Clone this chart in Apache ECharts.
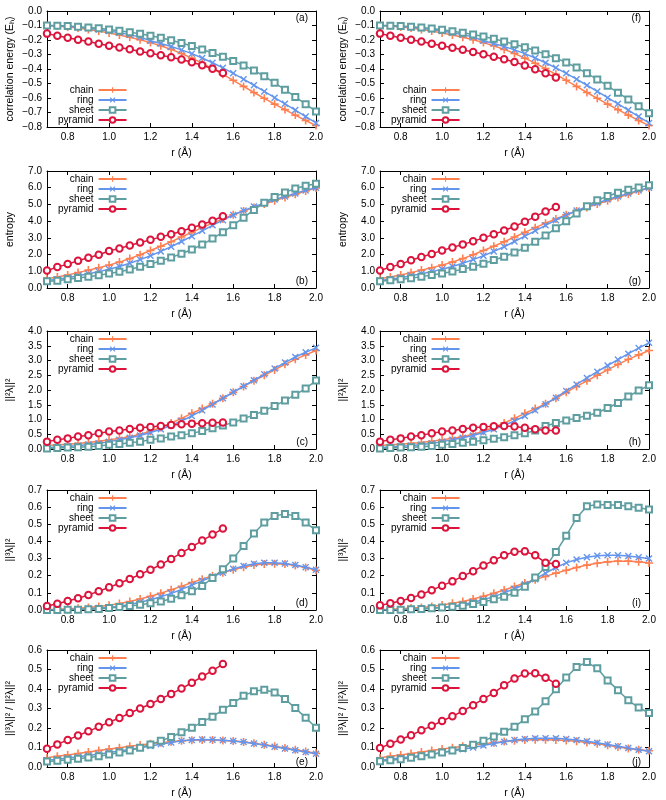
<!DOCTYPE html>
<html>
<head>
<meta charset="utf-8">
<title>Correlation energy, entropy and lambda norms</title>
<script src="https://cdn.jsdelivr.net/npm/echarts@6/dist/echarts.min.js"></script>
<style>
  html, body { margin: 0; padding: 0; background: #fff; }
  #main { width: 666px; height: 800px; }
</style>
</head>
<body>
<div id="main"></div>
<script>
// bond length grid (Å)
var r = [0.70, 0.75, 0.80, 0.85, 0.90, 0.95, 1.00, 1.05, 1.10, 1.15, 1.20, 1.25, 1.30, 1.35,
         1.40, 1.45, 1.50, 1.55, 1.60, 1.65, 1.70, 1.75, 1.80, 1.85, 1.90, 1.95, 2.00];
var xTicks = [0.8, 1.0, 1.2, 1.4, 1.6, 1.8, 2.0];

// (a) correlation energy
var aChain = [-0.100,-0.104,-0.110,-0.118,-0.127,-0.138,-0.151,-0.165,-0.181,-0.198,-0.218,-0.240,-0.265,-0.293,-0.325,-0.360,-0.397,-0.437,-0.478,-0.520,-0.562,-0.602,-0.642,-0.680,-0.718,-0.755,-0.790];
var aRing  = [-0.100,-0.102,-0.106,-0.112,-0.119,-0.128,-0.138,-0.150,-0.163,-0.180,-0.205,-0.224,-0.245,-0.268,-0.294,-0.324,-0.357,-0.392,-0.430,-0.470,-0.512,-0.555,-0.598,-0.640,-0.683,-0.728,-0.772];
var aSheet = [-0.100,-0.101,-0.104,-0.108,-0.113,-0.119,-0.127,-0.136,-0.146,-0.157,-0.170,-0.185,-0.202,-0.221,-0.242,-0.265,-0.290,-0.316,-0.344,-0.375,-0.410,-0.450,-0.495,-0.543,-0.593,-0.643,-0.693];
var aPyr   = [-0.156,-0.170,-0.185,-0.198,-0.211,-0.226,-0.239,-0.252,-0.264,-0.279,-0.291,-0.305,-0.319,-0.335,-0.353,-0.374,-0.398,-0.428];
// (f)
var fChain = [-0.100,-0.104,-0.110,-0.118,-0.127,-0.138,-0.151,-0.165,-0.181,-0.198,-0.218,-0.240,-0.265,-0.293,-0.325,-0.360,-0.397,-0.437,-0.478,-0.520,-0.562,-0.602,-0.642,-0.680,-0.718,-0.755,-0.790];
var fRing  = [-0.100,-0.102,-0.106,-0.112,-0.119,-0.128,-0.138,-0.150,-0.163,-0.180,-0.205,-0.224,-0.245,-0.268,-0.294,-0.324,-0.357,-0.392,-0.430,-0.470,-0.512,-0.555,-0.598,-0.640,-0.683,-0.728,-0.772];
var fSheet = [-0.100,-0.101,-0.104,-0.108,-0.114,-0.121,-0.129,-0.139,-0.150,-0.162,-0.176,-0.192,-0.210,-0.229,-0.250,-0.273,-0.298,-0.325,-0.355,-0.390,-0.430,-0.472,-0.516,-0.563,-0.610,-0.657,-0.705];
var fPyr   = [-0.156,-0.170,-0.185,-0.198,-0.211,-0.226,-0.240,-0.254,-0.268,-0.283,-0.298,-0.315,-0.333,-0.352,-0.375,-0.402,-0.430,-0.458];

// (b) entropy
var bChain = [0.56,0.66,0.78,0.92,1.07,1.21,1.37,1.55,1.76,1.99,2.24,2.50,2.77,3.05,3.33,3.61,3.88,4.13,4.38,4.60,4.82,5.02,5.22,5.42,5.61,5.80,5.98];
var bRing  = [0.45,0.53,0.62,0.73,0.85,0.98,1.12,1.29,1.48,1.70,1.93,2.19,2.47,2.78,3.10,3.42,3.75,4.06,4.37,4.63,4.87,5.08,5.29,5.48,5.66,5.84,6.00];
var bSheet = [0.40,0.44,0.52,0.60,0.68,0.76,0.87,0.97,1.11,1.27,1.43,1.63,1.83,2.05,2.30,2.60,2.96,3.34,3.76,4.21,4.67,5.10,5.45,5.72,5.95,6.12,6.24];
var bPyr   = [1.05,1.25,1.43,1.63,1.81,1.99,2.21,2.37,2.54,2.72,2.88,3.06,3.22,3.40,3.60,3.80,4.02,4.29];
// (g)
var gChain = [0.56,0.66,0.78,0.92,1.07,1.21,1.37,1.55,1.76,1.99,2.24,2.50,2.77,3.05,3.33,3.61,3.88,4.13,4.38,4.60,4.82,5.02,5.22,5.42,5.61,5.80,5.98];
var gRing  = [0.45,0.53,0.62,0.73,0.85,0.98,1.12,1.29,1.48,1.70,1.93,2.19,2.47,2.78,3.10,3.42,3.75,4.06,4.37,4.63,4.87,5.08,5.29,5.48,5.66,5.84,6.00];
var gSheet = [0.40,0.46,0.52,0.58,0.68,0.78,0.87,0.99,1.13,1.27,1.45,1.67,1.87,2.13,2.41,2.76,3.14,3.58,4.00,4.45,4.89,5.25,5.50,5.70,5.88,6.02,6.14];
var gPyr   = [1.05,1.25,1.43,1.66,1.86,2.04,2.25,2.42,2.61,2.79,3.00,3.21,3.44,3.68,3.97,4.27,4.58,4.85];

// (c) ||2 lambda||^2
var cChain = [0.12,0.14,0.16,0.19,0.22,0.26,0.31,0.36,0.42,0.50,0.60,0.73,0.88,1.04,1.21,1.37,1.53,1.72,1.92,2.12,2.31,2.50,2.68,2.87,3.04,3.19,3.34];
var cRing  = [0.05,0.07,0.09,0.11,0.15,0.19,0.25,0.31,0.38,0.46,0.56,0.67,0.80,0.95,1.12,1.31,1.51,1.72,1.93,2.13,2.33,2.53,2.73,2.93,3.12,3.28,3.43];
var cSheet = [0.02,0.03,0.05,0.06,0.08,0.10,0.14,0.17,0.21,0.25,0.31,0.36,0.42,0.47,0.53,0.61,0.70,0.80,0.90,1.03,1.15,1.30,1.46,1.64,1.84,2.05,2.32];
var cPyr   = [0.25,0.31,0.36,0.42,0.47,0.53,0.59,0.63,0.68,0.72,0.75,0.78,0.81,0.84,0.86,0.87,0.89,0.90];
// (h)
var hChain = [0.12,0.14,0.16,0.19,0.22,0.26,0.31,0.36,0.42,0.50,0.60,0.73,0.88,1.04,1.21,1.37,1.53,1.72,1.92,2.12,2.31,2.50,2.68,2.87,3.04,3.19,3.34];
var hRing  = [0.05,0.07,0.09,0.11,0.15,0.19,0.25,0.31,0.38,0.46,0.56,0.67,0.80,0.95,1.12,1.31,1.52,1.74,1.97,2.19,2.41,2.62,2.83,3.03,3.23,3.42,3.60];
var hSheet = [0.02,0.03,0.05,0.06,0.08,0.10,0.14,0.17,0.21,0.25,0.30,0.35,0.40,0.47,0.53,0.63,0.78,0.88,0.97,1.05,1.13,1.23,1.39,1.56,1.78,1.98,2.16];
var hPyr   = [0.25,0.31,0.36,0.42,0.47,0.53,0.59,0.63,0.68,0.72,0.75,0.77,0.78,0.76,0.72,0.67,0.63,0.63];

// (d) ||3 lambda||^2
var dChain = [0.003,0.005,0.007,0.010,0.014,0.020,0.028,0.038,0.050,0.064,0.080,0.098,0.118,0.138,0.160,0.180,0.200,0.218,0.235,0.250,0.262,0.268,0.270,0.268,0.260,0.248,0.232];
var dRing  = [0.001,0.002,0.003,0.005,0.007,0.011,0.015,0.022,0.032,0.045,0.060,0.077,0.097,0.120,0.145,0.170,0.195,0.218,0.240,0.257,0.270,0.276,0.276,0.271,0.262,0.250,0.235];
var dSheet = [0.000,0.000,0.001,0.002,0.004,0.006,0.011,0.017,0.023,0.030,0.039,0.050,0.066,0.086,0.109,0.140,0.187,0.237,0.300,0.374,0.446,0.510,0.549,0.560,0.549,0.510,0.465];
var dPyr   = [0.023,0.037,0.053,0.068,0.088,0.109,0.132,0.156,0.181,0.208,0.235,0.265,0.298,0.333,0.368,0.405,0.440,0.475];
// (i)
var iChain = [0.003,0.005,0.008,0.011,0.015,0.021,0.029,0.039,0.050,0.064,0.080,0.098,0.117,0.137,0.157,0.177,0.196,0.215,0.232,0.248,0.262,0.273,0.281,0.285,0.285,0.281,0.274];
var iRing  = [0.001,0.002,0.003,0.005,0.007,0.011,0.015,0.022,0.032,0.045,0.060,0.078,0.100,0.124,0.150,0.180,0.215,0.248,0.275,0.295,0.308,0.316,0.320,0.319,0.315,0.308,0.300];
var iSheet = [0.000,0.000,0.002,0.004,0.006,0.010,0.014,0.019,0.025,0.035,0.047,0.062,0.078,0.101,0.136,0.190,0.251,0.338,0.433,0.537,0.605,0.615,0.613,0.613,0.605,0.597,0.586];
var iPyr   = [0.027,0.039,0.053,0.070,0.091,0.115,0.142,0.167,0.198,0.226,0.259,0.290,0.319,0.340,0.342,0.319,0.276,0.268];

// (e) ||3 lambda||^2 / ||2 lambda||^2
var eChain = [0.047,0.055,0.062,0.069,0.077,0.085,0.092,0.099,0.106,0.113,0.119,0.125,0.130,0.134,0.137,0.138,0.138,0.136,0.133,0.128,0.122,0.114,0.106,0.097,0.088,0.079,0.070];
var eRing  = [0.035,0.040,0.046,0.052,0.059,0.066,0.074,0.082,0.090,0.099,0.108,0.117,0.126,0.134,0.139,0.141,0.140,0.137,0.133,0.128,0.121,0.113,0.104,0.095,0.086,0.077,0.068];
var eSheet = [0.028,0.032,0.037,0.042,0.049,0.055,0.064,0.074,0.085,0.099,0.116,0.134,0.154,0.178,0.201,0.231,0.258,0.293,0.328,0.365,0.389,0.396,0.382,0.349,0.302,0.253,0.201];
var ePyr   = [0.094,0.116,0.139,0.161,0.183,0.206,0.230,0.251,0.277,0.300,0.323,0.349,0.375,0.402,0.432,0.464,0.494,0.528];
// (j)
var jChain = [0.047,0.055,0.062,0.069,0.077,0.085,0.092,0.099,0.106,0.113,0.119,0.125,0.131,0.135,0.138,0.140,0.140,0.139,0.136,0.132,0.126,0.119,0.111,0.103,0.095,0.089,0.083];
var jRing  = [0.035,0.040,0.046,0.052,0.059,0.066,0.074,0.082,0.091,0.100,0.110,0.120,0.130,0.138,0.144,0.147,0.148,0.147,0.144,0.139,0.132,0.124,0.115,0.106,0.097,0.089,0.081];
var jSheet = [0.030,0.034,0.040,0.047,0.055,0.064,0.074,0.084,0.097,0.114,0.134,0.156,0.181,0.206,0.245,0.285,0.337,0.399,0.459,0.513,0.538,0.506,0.444,0.394,0.342,0.305,0.277];
var jPyr   = [0.097,0.119,0.141,0.163,0.188,0.211,0.236,0.260,0.287,0.317,0.349,0.380,0.419,0.454,0.479,0.481,0.458,0.427];

var seriesNames = ['chain', 'ring', 'sheet', 'pyramid'];
var colors = ['#ff7f50', '#6495ed', '#5f9ea0', '#dc143c'];
var PLUS = 'path://M4,0H6V4H10V6H6V10H4V6H0V4H4Z';
var CROSS = 'path://M1.4,0L5,3.6L8.6,0L10,1.4L6.4,5L10,8.6L8.6,10L5,6.4L1.4,10L0,8.6L3.6,5L0,1.4Z';
var symbols = [PLUS, CROSS, 'emptyRect', 'emptyCircle'];
var symSizes = [8, 7, 6, 6.5];

var panels = [
  { tag: '(a)', col: 0, row: 0, ylabel: 'correlation energy (Eₕ)', min: -0.8, max: 0, step: 0.1, data: [aChain, aRing, aSheet, aPyr] },
  { tag: '(f)', col: 1, row: 0, ylabel: 'correlation energy (Eₕ)', min: -0.8, max: 0, step: 0.1, data: [fChain, fRing, fSheet, fPyr] },
  { tag: '(b)', col: 0, row: 1, ylabel: 'entropy', min: 0, max: 7, step: 1, data: [bChain, bRing, bSheet, bPyr] },
  { tag: '(g)', col: 1, row: 1, ylabel: 'entropy', min: 0, max: 7, step: 1, data: [gChain, gRing, gSheet, gPyr] },
  { tag: '(c)', col: 0, row: 2, ylabel: '||²λ||²', min: 0, max: 4, step: 0.5, data: [cChain, cRing, cSheet, cPyr] },
  { tag: '(h)', col: 1, row: 2, ylabel: '||²λ||²', min: 0, max: 4, step: 0.5, data: [hChain, hRing, hSheet, hPyr] },
  { tag: '(d)', col: 0, row: 3, ylabel: '||³λ||²', min: 0, max: 0.7, step: 0.1, data: [dChain, dRing, dSheet, dPyr] },
  { tag: '(i)', col: 1, row: 3, ylabel: '||³λ||²', min: 0, max: 0.7, step: 0.1, data: [iChain, iRing, iSheet, iPyr] },
  { tag: '(e)', col: 0, row: 4, ylabel: '||³λ||² / ||²λ||²', min: 0, max: 0.6, step: 0.1, data: [eChain, eRing, eSheet, ePyr] },
  { tag: '(j)', col: 1, row: 4, ylabel: '||³λ||² / ||²λ||²', min: 0, max: 0.6, step: 0.1, data: [jChain, jRing, jSheet, jPyr] }
];

// layout
var colLeft = [47, 380];
var gridW = 269;
var rowTop = [11, 171, 331, 490, 650];
var rowH = [116, 117, 118, 120, 119];
var FONT = '"Liberation Sans", Arial, Helvetica, sans-serif';

function fmt(v) {
  if (Math.abs(v) < 1e-9) return '0.0';
  return v.toFixed(1).replace('-', '\u2212');
}

var grids = [], xAxes = [], yAxes = [], series = [], legends = [], graphics = [];

panels.forEach(function (p, i) {
  var left = colLeft[p.col], top = rowTop[p.row], h = rowH[p.row];
  grids.push({ left: left, top: top, width: gridW, height: h, containLabel: false });

  var tickStyle = { show: true, inside: true, length: 4, lineStyle: { color: '#000', width: 1 } };
  var lineStyle = { show: true, onZero: false, lineStyle: { color: '#000', width: 1 } };

  xAxes.push({
    type: 'value', gridIndex: i, min: 0.7, max: 2.0, position: 'bottom',
    name: 'r (Å)', nameLocation: 'middle', nameGap: 21,
    nameTextStyle: { fontFamily: FONT, fontSize: 10.5, color: '#000' },
    axisLine: lineStyle,
    axisTick: Object.assign({ customValues: xTicks }, tickStyle),
    axisLabel: { customValues: xTicks, formatter: fmt, margin: 5, fontFamily: FONT, fontSize: 10, color: '#000' },
    splitLine: { show: false }
  });
  xAxes.push({
    type: 'value', gridIndex: i, min: 0.7, max: 2.0, position: 'top',
    axisLine: lineStyle,
    axisTick: Object.assign({ customValues: xTicks }, tickStyle),
    axisLabel: { show: false },
    splitLine: { show: false }
  });

  yAxes.push({
    type: 'value', gridIndex: i, min: p.min, max: p.max, interval: p.step, position: 'left',
    name: p.ylabel, nameLocation: 'middle', nameRotate: 90, nameGap: 31,
    nameTextStyle: { fontFamily: FONT, fontSize: 10.5, color: '#000' },
    axisLine: lineStyle,
    axisTick: tickStyle,
    axisLabel: { formatter: fmt, margin: 5, fontFamily: FONT, fontSize: 10, color: '#000' },
    splitLine: { show: false }
  });
  yAxes.push({
    type: 'value', gridIndex: i, min: p.min, max: p.max, interval: p.step, position: 'right',
    axisLine: lineStyle,
    axisTick: tickStyle,
    axisLabel: { show: false },
    splitLine: { show: false }
  });

  p.data.forEach(function (vals, k) {
    series.push({
      type: 'line',
      name: seriesNames[k],
      xAxisIndex: 2 * i,
      yAxisIndex: 2 * i,
      data: vals.map(function (v, j) { return [r[j], v]; }),
      symbol: symbols[k],
      symbolSize: symSizes[k],
      showAllSymbol: true,
      z: 2 + k,
      lineStyle: { color: colors[k], width: 1.5 },
      itemStyle: { color: colors[k], borderColor: colors[k], borderWidth: k >= 2 ? 1.3 : 0 },
      emphasis: { disabled: true }
    });
  });

  var legendTop = p.row === 0 ? top + 74 : top + 3;
  legends.push({
    orient: 'vertical', align: 'right',
    left: left + 11, top: legendTop,
    padding: 0, itemGap: 0,
    itemWidth: 28, itemHeight: 7,
    selectedMode: false,
    textStyle: { fontFamily: FONT, fontSize: 10, color: '#000', lineHeight: 9.8 },
    data: seriesNames
  });

  graphics.push({
    type: 'text',
    x: left + gridW - 8,
    y: p.row === 0 ? top + 7 : top + h - 7,
    style: { text: p.tag, fontFamily: FONT, fontSize: 10, fill: '#000', align: 'right', verticalAlign: 'middle' }
  });
});

var chart = echarts.init(document.getElementById('main'), null, { renderer: 'canvas' });
chart.setOption({
  animation: false,
  backgroundColor: '#fff',
  color: colors,
  grid: grids,
  xAxis: xAxes,
  yAxis: yAxes,
  legend: legends,
  graphic: graphics,
  series: series
});
</script>
</body>
</html>
